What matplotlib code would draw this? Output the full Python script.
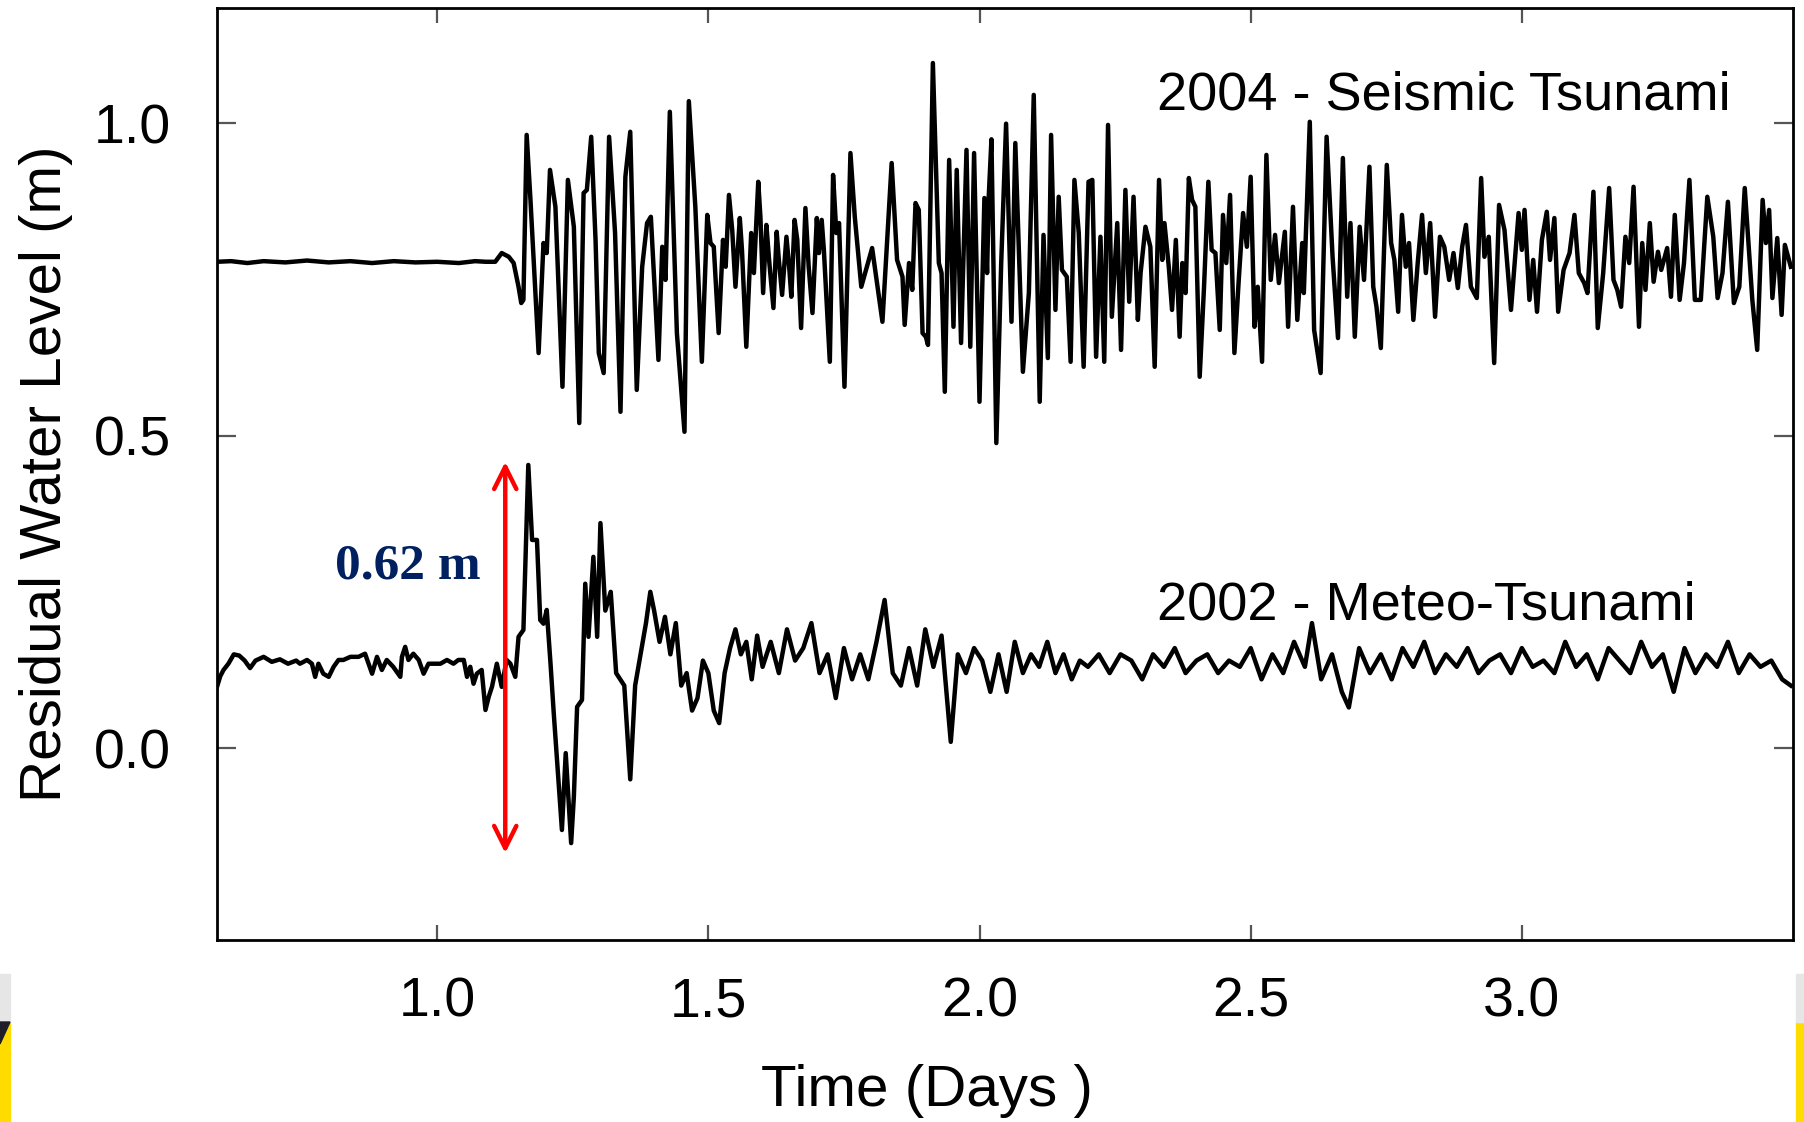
import matplotlib
matplotlib.use("Agg")
import matplotlib.pyplot as plt
from matplotlib.patches import Rectangle, Polygon

plt.rcParams['font.family'] = ['Liberation Sans', 'DejaVu Sans']

# ---------------- data ----------------
seismic_days = [
    0.594, 0.62, 0.65, 0.68, 0.72, 0.76, 0.80, 0.84, 0.88, 0.92, 0.96, 1.00, 1.04, 1.07, 1.09,
    1.107, 1.119, 1.132, 1.141, 1.150, 1.155, 1.159, 1.165, 1.172, 1.187, 1.196, 1.202, 1.208, 1.218,
    1.231, 1.241, 1.252, 1.262, 1.270, 1.276, 1.284, 1.292, 1.298, 1.307, 1.317, 1.328, 1.338, 1.347,
    1.356, 1.368, 1.378, 1.387, 1.394, 1.408, 1.415, 1.421, 1.429, 1.442, 1.456, 1.464, 1.476, 1.488,
    1.498,
    1.504, 1.510, 1.519, 1.527, 1.532, 1.538, 1.544, 1.550, 1.558, 1.562, 1.570, 1.579, 1.584, 1.592,
    1.596, 1.601, 1.607, 1.612, 1.620, 1.626, 1.630, 1.636, 1.644, 1.649, 1.653, 1.659, 1.664, 1.671,
    1.679, 1.685, 1.692, 1.700, 1.704, 1.709, 1.713, 1.724, 1.730, 1.736, 1.741, 1.751, 1.762, 1.770,
    1.782, 1.802, 1.821, 1.838, 1.848, 1.858, 1.862, 1.870, 1.876, 1.882, 1.888, 1.895, 1.901, 1.905,
    1.914, 1.925, 1.930, 1.936, 1.944, 1.952, 1.958, 1.966, 1.976, 1.983, 1.990, 2.000, 2.009, 2.014,
    2.017, 2.022, 2.031, 2.040, 2.049, 2.059, 2.066, 2.080, 2.091, 2.100, 2.111, 2.118, 2.126, 2.132,
    2.140, 2.146, 2.152, 2.161, 2.168, 2.175, 2.183, 2.192, 2.201, 2.208, 2.215, 2.223, 2.230, 2.237,
    2.244, 2.254, 2.261, 2.269, 2.276, 2.284, 2.292,
    2.297, 2.306, 2.315, 2.323, 2.331, 2.337, 2.341, 2.349, 2.355, 2.362, 2.369, 2.374, 2.380, 2.386,
    2.392, 2.398, 2.406, 2.414, 2.422, 2.428, 2.435, 2.443, 2.449, 2.455, 2.462, 2.470, 2.478, 2.486,
    2.493, 2.500, 2.507, 2.513, 2.521, 2.529, 2.537, 2.545, 2.552, 2.563, 2.569, 2.578, 2.586, 2.595,
    2.598, 2.609, 2.617, 2.629, 2.640, 2.651, 2.661, 2.670, 2.678, 2.684, 2.692,
    2.701, 2.709, 2.719, 2.726, 2.732, 2.740, 2.751, 2.759, 2.765, 2.772, 2.779, 2.786, 2.792, 2.800,
    2.808, 2.816, 2.823, 2.831, 2.840, 2.849, 2.857, 2.866, 2.874, 2.882, 2.890, 2.897, 2.906, 2.917,
    2.925, 2.931, 2.939, 2.949, 2.958, 2.968, 2.980, 2.994, 3.000, 3.005, 3.014, 3.021, 3.028, 3.037,
    3.046, 3.052, 3.060, 3.067, 3.077, 3.088,
    3.097, 3.105, 3.115, 3.121, 3.132, 3.140, 3.150, 3.161, 3.169, 3.176, 3.183, 3.191, 3.198, 3.206,
    3.216, 3.222, 3.228, 3.236, 3.243, 3.251, 3.257, 3.268, 3.275, 3.282, 3.291, 3.299, 3.309, 3.319,
    3.330, 3.342, 3.353, 3.361, 3.370, 3.380, 3.391, 3.401, 3.411, 3.425, 3.434, 3.444, 3.450, 3.456,
    3.462, 3.471, 3.479, 3.485, 3.496,
]
seismic_level = [
    0.778, 0.779, 0.776, 0.779, 0.777, 0.780, 0.777, 0.779, 0.776, 0.779, 0.777, 0.778, 0.776, 0.779, 0.778,
    0.778, 0.792, 0.786, 0.776, 0.738, 0.712, 0.717, 0.981, 0.877, 0.632, 0.808, 0.792, 0.925, 0.866,
    0.578, 0.909, 0.834, 0.520, 0.888, 0.893, 0.978, 0.813, 0.632, 0.600, 0.978, 0.824, 0.538, 0.914,
    0.986, 0.573, 0.770, 0.840, 0.850, 0.621, 0.802, 0.749, 1.018, 0.664, 0.506, 1.035, 0.866, 0.618,
    0.853,
    0.808, 0.802, 0.664, 0.813, 0.770, 0.885, 0.829, 0.738, 0.848, 0.797, 0.642, 0.824, 0.760, 0.906,
    0.850, 0.728, 0.837, 0.781, 0.704, 0.826, 0.781, 0.725, 0.818, 0.770, 0.722, 0.845, 0.813, 0.672,
    0.864, 0.770, 0.696, 0.848, 0.792, 0.845, 0.797, 0.618, 0.917, 0.824, 0.840, 0.578, 0.952, 0.850,
    0.738, 0.800, 0.682, 0.936, 0.781, 0.754, 0.677, 0.776, 0.733, 0.872, 0.861, 0.664, 0.658, 0.645,
    1.096, 0.776, 0.760, 0.570, 0.941, 0.674, 0.925, 0.648, 0.957, 0.642, 0.952, 0.554, 0.880, 0.760,
    0.882, 0.974, 0.488, 0.776, 0.999, 0.682, 0.968, 0.602, 0.728, 1.045, 0.554, 0.821, 0.624, 0.981,
    0.701, 0.882, 0.765, 0.754, 0.618, 0.909, 0.824, 0.610, 0.906, 0.909, 0.626, 0.818, 0.618, 0.997,
    0.690, 0.840, 0.637, 0.893, 0.714, 0.882, 0.685,
    0.760, 0.834, 0.802, 0.610, 0.909, 0.781, 0.840, 0.770, 0.701, 0.813, 0.658, 0.776, 0.728, 0.912,
    0.877, 0.866, 0.594, 0.738, 0.906, 0.797, 0.792, 0.669, 0.853, 0.776, 0.885, 0.632, 0.749, 0.856,
    0.802, 0.914, 0.674, 0.738, 0.618, 0.949, 0.749, 0.821, 0.744, 0.826, 0.674, 0.866, 0.685, 0.808,
    0.728, 1.002, 0.669, 0.600, 0.978, 0.786, 0.656, 0.944, 0.722, 0.840, 0.658,
    0.834, 0.749, 0.930, 0.738, 0.706, 0.640, 0.933, 0.808, 0.781, 0.698, 0.853, 0.770, 0.808, 0.685,
    0.776, 0.853, 0.760, 0.840, 0.690, 0.818, 0.802, 0.749, 0.792, 0.736, 0.802, 0.837, 0.738, 0.720,
    0.912, 0.786, 0.818, 0.616, 0.869, 0.829, 0.701, 0.856, 0.797, 0.861, 0.717, 0.781, 0.698, 0.813,
    0.858, 0.781, 0.848, 0.698, 0.765, 0.792,
    0.853, 0.760, 0.744, 0.728, 0.890, 0.672, 0.760, 0.896, 0.749, 0.733, 0.706, 0.818, 0.776, 0.898,
    0.674, 0.808, 0.733, 0.840, 0.746, 0.794, 0.765, 0.800, 0.722, 0.853, 0.717, 0.776, 0.909, 0.717,
    0.717, 0.882, 0.818, 0.720, 0.760, 0.874, 0.712, 0.738, 0.896, 0.717, 0.637, 0.877, 0.808, 0.861,
    0.720, 0.816, 0.693, 0.805, 0.770,
]

meteo_days = [
    0.594, 0.600, 0.606, 0.615, 0.625, 0.635, 0.645, 0.655, 0.665, 0.680, 0.695, 0.710, 0.725, 0.740,
    0.747, 0.760, 0.769, 0.775, 0.781, 0.790, 0.800, 0.809, 0.818, 0.827, 0.840, 0.855, 0.867, 0.880,
    0.889, 0.898, 0.907, 0.919, 0.932, 0.935, 0.941, 0.947, 0.956, 0.966, 0.975, 0.984, 0.993, 1.006,
    1.018, 1.030, 1.039, 1.049, 1.055, 1.061, 1.067, 1.073, 1.082, 1.089, 1.095, 1.101, 1.110, 1.119,
    1.128, 1.135, 1.144, 1.150, 1.159, 1.168, 1.175, 1.184, 1.190, 1.196, 1.202, 1.209, 1.215, 1.221,
    1.230, 1.237, 1.247, 1.252, 1.258, 1.267, 1.273, 1.279, 1.288, 1.295, 1.301,
    1.310, 1.320, 1.330, 1.345, 1.356, 1.365, 1.375, 1.385, 1.393, 1.400, 1.410, 1.420, 1.430, 1.440,
    1.450, 1.460, 1.470, 1.480, 1.490, 1.500, 1.510, 1.520, 1.530, 1.540, 1.550, 1.560, 1.570, 1.580,
    1.590, 1.600, 1.615, 1.630, 1.645, 1.660, 1.675, 1.690, 1.705, 1.720, 1.735, 1.750, 1.765, 1.780,
    1.795, 1.810, 1.825, 1.840, 1.855, 1.870, 1.885, 1.900, 1.915, 1.930, 1.947, 1.960, 1.975, 1.990,
    2.005, 2.020, 2.035, 2.050, 2.065, 2.080, 2.095, 2.110, 2.125, 2.140, 2.155, 2.170, 2.185, 2.200,
    2.220, 2.240, 2.260, 2.280, 2.300, 2.320, 2.340, 2.360, 2.380, 2.400, 2.420, 2.440, 2.460, 2.480,
    2.500, 2.520, 2.540, 2.560, 2.580, 2.600, 2.613, 2.630, 2.650, 2.668, 2.681, 2.700, 2.720, 2.740,
    2.760, 2.780, 2.800, 2.820, 2.840, 2.860, 2.880, 2.900, 2.920, 2.940, 2.960, 2.980, 3.000, 3.020,
    3.040, 3.060, 3.080, 3.100, 3.120, 3.140, 3.160, 3.180, 3.200, 3.220, 3.240, 3.260, 3.280, 3.300,
    3.320, 3.340, 3.360, 3.380, 3.400, 3.420, 3.440, 3.460, 3.480, 3.496,
]
meteo_level = [
    0.098, 0.115, 0.125, 0.135, 0.150, 0.148, 0.140, 0.128, 0.140, 0.146, 0.138, 0.142, 0.135, 0.140,
    0.135, 0.141, 0.135, 0.114, 0.135, 0.119, 0.114, 0.130, 0.141, 0.141, 0.146, 0.146, 0.151, 0.119,
    0.146, 0.125, 0.141, 0.130, 0.114, 0.146, 0.162, 0.141, 0.151, 0.141, 0.119, 0.135, 0.135, 0.135,
    0.141, 0.135, 0.141, 0.141, 0.114, 0.130, 0.103, 0.119, 0.125, 0.061, 0.082, 0.098, 0.135, 0.098,
    0.141, 0.135, 0.114, 0.178, 0.189, 0.453, 0.333, 0.333, 0.205, 0.199, 0.221, 0.135, 0.055, -0.019,
    -0.131, -0.008, -0.152, -0.078, 0.066, 0.077, 0.263, 0.178, 0.306, 0.178, 0.360,
    0.220, 0.250, 0.120, 0.100, -0.050, 0.100, 0.150, 0.200, 0.250, 0.220, 0.170, 0.210, 0.150, 0.200,
    0.100, 0.120, 0.060, 0.080, 0.140, 0.120, 0.060, 0.040, 0.120, 0.160, 0.190, 0.150, 0.170, 0.110,
    0.180, 0.130, 0.170, 0.120, 0.190, 0.140, 0.160, 0.200, 0.120, 0.150, 0.080, 0.160, 0.110, 0.150,
    0.110, 0.170, 0.237, 0.120, 0.100, 0.160, 0.100, 0.190, 0.130, 0.180, 0.010, 0.150, 0.120, 0.160,
    0.140, 0.090, 0.150, 0.090, 0.170, 0.120, 0.150, 0.130, 0.170, 0.120, 0.150, 0.110, 0.140, 0.130,
    0.150, 0.120, 0.150, 0.140, 0.110, 0.150, 0.130, 0.160, 0.120, 0.140, 0.150, 0.120, 0.140, 0.130,
    0.160, 0.110, 0.150, 0.120, 0.170, 0.130, 0.200, 0.110, 0.150, 0.090, 0.065, 0.160, 0.120, 0.150,
    0.110, 0.160, 0.130, 0.170, 0.120, 0.150, 0.130, 0.160, 0.120, 0.140, 0.150, 0.120, 0.160, 0.130,
    0.140, 0.120, 0.170, 0.130, 0.150, 0.110, 0.160, 0.140, 0.120, 0.170, 0.130, 0.150, 0.090, 0.160,
    0.120, 0.150, 0.130, 0.170, 0.120, 0.150, 0.130, 0.140, 0.110, 0.100,
]

x_ticks = [1.0, 1.5, 2.0, 2.5, 3.0]
y_ticks = [0.0, 0.5, 1.0]
x_range = (0.594, 3.50)
y_range = (-0.307, 1.184)

arrow_day = 1.1255
arrow_top = 0.458
arrow_bottom = -0.168

# ---------------- figure ----------------
W, H = 1804, 1122
fig = plt.figure(figsize=(W / 100, H / 100), dpi=100)
ax = fig.add_axes([217 / W, 1 - 940 / H, (1793 - 217) / W, (940 - 8) / H])

ax.plot(seismic_days, seismic_level, color='black', lw=3.2, solid_joinstyle='round')
ax.plot(meteo_days, meteo_level, color='black', lw=3.2, solid_joinstyle='round')

ax.set_xlim(*x_range)
ax.set_ylim(*y_range)
ax.set_xticks(x_ticks)
ax.set_yticks(y_ticks)
ax.set_xticklabels([f"{v:.1f}" for v in x_ticks])
ax.set_yticklabels([f"{v:.1f}" for v in y_ticks])
ax.tick_params(axis='both', direction='in', top=True, right=True,
               labelsize=40, colors='#555555', labelcolor='black', width=1.6)
ax.tick_params(axis='x', length=11, pad=26)
ax.tick_params(axis='y', length=14, pad=33)
for s in ax.spines.values():
    s.set_linewidth(2.0)
    s.set_color('black')

ax.text(2.327, 1.022, "2004 - Seismic Tsunami", fontsize=39, ha='left', va='baseline')
ax.text(2.327, 0.206, "2002 - Meteo-Tsunami", fontsize=39, ha='left', va='baseline')

ax.annotate("", xy=(arrow_day, arrow_top), xytext=(arrow_day, arrow_bottom),
            arrowprops=dict(arrowstyle='<->', color='#ff0000', lw=3.2, mutation_scale=40,
                            shrinkA=0, shrinkB=0))
ax.text(0.812, 0.272, "0.62 m", fontsize=37, family=['Liberation Serif'], color='#002060',
        fontweight='bold', ha='left', va='baseline')

fig.text(46 / W, 1 - 474 / H, "Residual Water Level (m)", rotation=90, fontsize=42,
         ha='center', va='center')
fig.text(927 / W, 1 - 1091 / H, "Time (Days )", fontsize=42, ha='center', va='center')

# screenshot edge artefacts (yellow strips in the bottom corners)
fig.patches.append(Rectangle((0, 0), 10 / W, 100 / H, transform=fig.transFigure,
                             color='#FFDC00', zorder=-1))
fig.patches.append(Rectangle((0, 100 / H), 10 / W, 48 / H, transform=fig.transFigure,
                             color='#E6E6E6', zorder=-1))
fig.patches.append(Polygon([(0, 100 / H), (10 / W, 100 / H), (0, 78 / H)], closed=True,
                           transform=fig.transFigure, color='#1E1E2A', zorder=-1))
fig.patches.append(Rectangle((1796 / W, 0), 8 / W, 100 / H, transform=fig.transFigure,
                             color='#FFDC00', zorder=-1))
fig.patches.append(Rectangle((1796 / W, 100 / H), 8 / W, 48 / H, transform=fig.transFigure,
                             color='#E6E6E6', zorder=-1))

fig.savefig("out.png", dpi=100)
